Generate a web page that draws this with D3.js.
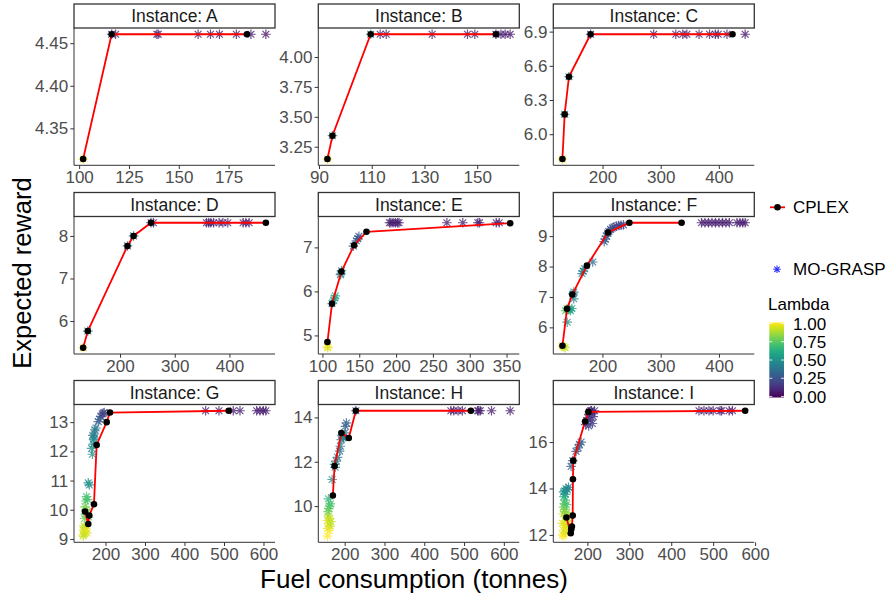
<!DOCTYPE html>
<html><head><meta charset="utf-8">
<script src="https://cdn.jsdelivr.net/npm/d3@7"></script>
<style>body{margin:0;background:#fff} svg{display:block} text{font-family:"Liberation Sans",Arial,Helvetica,sans-serif}</style>
</head><body><svg id="chart" width="894" height="594"></svg>
<script>
// ---------------- DATA ----------------
const instances = ["A","B","C","D","E","F","G","H","I"];

// CPLEX solutions [fuel, reward]
const A_cplex = [[102,4.314],[116.3,4.4605],[184.2,4.4605]];
const B_cplex = [[93.2,3.147],[95.1,3.342],[109.6,4.19],[157.1,4.19]];
const C_cplex = [[131,5.782],[134.8,6.174],[142.2,6.504],[179.4,6.877],[423.5,6.877]];
const D_cplex = [[132.5,5.372],[141,5.765],[213.6,7.765],[224.7,8.0],[256.6,8.31],[466.6,8.31]];
const E_cplex = [[106.8,4.85],[113,5.72],[125.8,6.45],[143,7.05],[159.8,7.355],[354.9,7.55]];
const F_cplex = [[131.4,5.394],[139.3,6.61],[148.3,7.08],[173.4,8.03],[209.7,9.12],[246.3,9.44],[335.9,9.44]];
const G_cplex = [[148.1,9.94],[156.5,9.51],[159,9.8],[170.9,10.19],[177.7,12.22],[203,13.0],[211.4,13.33],[511.9,13.39]];
const H_cplex = [[170.2,10.48],[174.5,11.81],[191.6,13.3],[210.2,13.07],[228,14.3],[517.1,14.3]];
const I_cplex = [[150,12.75],[160.3,12.07],[161.5,12.24],[163,12.36],[165,12.83],[165.5,14.4],[166.4,15.2],[194.5,16.89],[202.4,17.3],[576.3,17.35]];

// MO-GRASP solutions [fuel, reward, lambda]
const A_grasp = [[102,4.314,1.0],[116.3,4.4605,0.1],[118.3,4.4605,0.08],[139,4.4605,0.08],[139.7,4.4605,0.1],[159.7,4.4605,0.08],[165.9,4.4605,0.08],[170.4,4.4605,0.05],[178.9,4.4605,0.08],[186.2,4.4605,0.08],[193.7,4.4605,0.05]];
const B_grasp = [[93.2,3.147,1.0],[95.1,3.342,0.5],[109.6,4.19,0.45],[113.2,4.19,0.1],[115.5,4.19,0.1],[132.9,4.19,0.08],[146.3,4.19,0.08],[149.1,4.19,0.08],[157.1,4.19,0.05],[159.0,4.19,0.08],[160.6,4.19,0.08],[162.5,4.19,0.05]];
const C_grasp = [[131,5.782,1.0],[134.8,6.174,0.6],[142.2,6.504,0.42],[179.4,6.877,0.12],[288,6.877,0.08],[326,6.877,0.08],[338,6.877,0.08],[345,6.877,0.08],[366,6.877,0.08],[384,6.877,0.08],[394,6.877,0.08],[399,6.877,0.08],[414,6.877,0.08],[445.3,6.877,0.05]];
const D_grasp = [[132.5,5.372,1.0],[141,5.765,0.38],[213.6,7.765,0.3],[224.7,8.0,0.3],[256.6,8.31,0.12],[261,8.31,0.1],[358,8.31,0.08],[362,8.31,0.08],[366,8.31,0.08],[371,8.31,0.08],[381,8.31,0.08],[388,8.31,0.08],[397,8.31,0.08],[425,8.31,0.08],[430,8.31,0.08],[436,8.31,0.08]];
const E_grasp = [[106.8,4.74,1.0],[107.5,4.72,0.95],[115.5,5.8,0.55],[116.5,5.85,0.55],[117.5,5.9,0.6],[113,5.72,0.5],[124.5,6.38,0.4],[125,6.4,0.45],[126,6.47,0.45],[142,7.03,0.3],[146,7.15,0.3],[148,7.2,0.3],[149.5,7.25,0.25],
  [191,7.56,0.08],[193,7.56,0.08],[196,7.56,0.08],[199,7.56,0.08],[202,7.56,0.08],[204,7.56,0.08],[269,7.56,0.08],[290.6,7.56,0.08],[311,7.56,0.08],[313.3,7.56,0.08],[336,7.56,0.08],[340,7.56,0.08]];
const F_grasp = [[131.4,5.39,1.0],[134,5.36,0.95],[136,5.33,0.9],[139.5,6.17,0.5],[137,6.55,0.75],[139,6.62,0.8],[141,6.58,0.7],[143,6.6,0.65],[145,6.55,0.6],[147.5,6.62,0.55],[150.8,6.94,0.45],[149.5,7.1,0.5],[151,7.16,0.4],[164.9,7.77,0.45],[167,7.85,0.4],[169.5,7.93,0.45],[183.4,8.15,0.35],
  [203,8.82,0.3],[205,8.9,0.3],[207,9.0,0.3],[209,9.1,0.3],[211,9.15,0.25],[214,9.22,0.25],[217,9.27,0.25],[220,9.3,0.2],[224,9.33,0.2],[228,9.35,0.2],[232,9.36,0.2],[236,9.37,0.2],
  [370,9.44,0.08],[376,9.44,0.08],[382,9.44,0.08],[388,9.44,0.08],[394,9.44,0.08],[400,9.44,0.08],[406,9.44,0.08],[412,9.44,0.08],[418,9.44,0.08],[431,9.44,0.08],[436,9.44,0.08],[441,9.44,0.08],[445,9.44,0.08]];
const G_grasp = [[143.5,9.15,1.0],[145,9.3,0.95],[147,9.4,0.95],[149,9.25,0.9],[151,9.35,1.0],[146,9.45,0.9],[153,9.2,0.95],[144,9.1,0.9],
  [147,9.7,0.8],[149,9.85,0.75],[151,10.0,0.8],[148,10.1,0.8],[150,10.3,0.75],[152,10.45,0.7],[155,10.35,0.7],[154,9.95,0.8],[157,9.75,0.75],
  [156.5,10.92,0.5],[159,10.85,0.5],[165,12.1,0.5],[167,11.9,0.5],[169,12.25,0.45],[170,12.4,0.45],[171,12.45,0.5],[168,12.55,0.45],[173,12.74,0.4],[176,12.8,0.4],[172,12.6,0.4],
  [181.8,13.02,0.3],[185,13.1,0.3],[188,13.2,0.25],[192,13.28,0.2],[194.4,13.31,0.2],[197,13.33,0.2],
  [453.6,13.39,0.08],[487.3,13.39,0.08],[523.5,13.39,0.08],[540.5,13.39,0.08],[582.8,13.39,0.08],[591,13.39,0.08],[599.5,13.39,0.08],[606,13.39,0.08]];
const H_grasp = [[156.6,8.65,1.0],[158,9.0,0.95],[160,9.2,1.0],[157,9.35,0.95],[162,9.45,0.95],[159,9.55,0.9],[163,9.1,0.9],[161,8.9,1.0],[165,9.3,0.9],
  [158,9.75,0.8],[160,9.9,0.75],[162,10.0,0.75],[164,10.1,0.7],[159.1,10.33,0.65],
  [168.4,11.2,0.5],[174.5,11.88,0.5],[176,11.75,0.45],[178.8,12.03,0.45],[182,12.2,0.4],[187.2,12.48,0.4],[189,12.7,0.4],[191.6,13.0,0.45],[195.7,13.07,0.4],[193,13.2,0.4],[197,13.1,0.45],[200,13.3,0.35],[204.3,13.75,0.3],[202,13.6,0.3],[228,14.3,0.25],
  [466.8,14.3,0.08],[474.2,14.3,0.08],[485,14.3,0.08],[495.7,14.3,0.08],[534,14.3,0.08],[537,14.3,0.08],[540.8,14.3,0.08],[569,14.3,0.08],[615.9,14.3,0.08]];
const I_grasp = [[141,12.0,1.0],[143,12.2,0.95],[145,12.4,1.0],[147,12.6,0.95],[149,12.8,0.9],[142,12.9,0.9],[146,13.0,0.85],[150,12.3,0.95],[152,12.5,0.9],[144,11.95,1.0],[148,12.1,0.95],[153,12.7,0.9],[151,12.95,0.85],[140.5,12.5,0.95],
  [143,13.2,0.8],[145,13.35,0.75],[147,13.5,0.7],[144,13.65,0.65],[148,13.75,0.6],[146,13.1,0.8],[150,13.3,0.7],
  [146,13.9,0.55],[149,14.0,0.5],[152,13.95,0.45],[155,14.05,0.45],[143,13.85,0.5],
  [161.2,14.95,0.3],[165,15.2,0.3],[173,15.6,0.3],[178,15.75,0.3],[181,15.9,0.3],[185,16.0,0.3],
  [196,16.75,0.15],[199,16.9,0.15],[201,17.05,0.15],[203,17.2,0.15],[205,17.3,0.1],[208,17.35,0.1],[211,17.25,0.15],[214,17.1,0.15],[207,16.95,0.15],[210,17.35,0.1],[217,17.35,0.1],[212,16.8,0.2],[203,16.7,0.2],
  [466.2,17.35,0.08],[478,17.35,0.08],[490,17.35,0.08],[500,17.35,0.08],[516.4,17.35,0.08],[520,17.35,0.08],[538,17.35,0.08],[546,17.35,0.08]];

// Tick labels
const A_xticks = [100,125,150,175], A_yticks = [4.35,4.40,4.45];
const B_xticks = [90,110,130,150],  B_yticks = [3.25,3.50,3.75,4.00];
const C_xticks = [200,300,400],     C_yticks = [6.0,6.3,6.6,6.9];
const D_xticks = [200,300,400],     D_yticks = [6,7,8];
const E_xticks = [100,150,200,250,300,350], E_yticks = [5,6,7];
const F_xticks = [200,300,400],     F_yticks = [6,7,8,9];
const G_xticks = [200,300,400,500,600], G_yticks = [9,10,11,12,13];
const H_xticks = [200,300,400,500,600], H_yticks = [10,12,14];
const I_xticks = [200,300,400,500,600], I_yticks = [12,14,16];
const yFormat = {A:".2f",B:".2f",C:".1f",D:"d",E:"d",F:"d",G:"d",H:"d",I:"d"};
const lambdaTicks = [0,0.25,0.5,0.75,1.0];

// table built from the arrays above
const table = {
  A:{c:A_cplex,g:A_grasp,xt:A_xticks,yt:A_yticks}, B:{c:B_cplex,g:B_grasp,xt:B_xticks,yt:B_yticks},
  C:{c:C_cplex,g:C_grasp,xt:C_xticks,yt:C_yticks}, D:{c:D_cplex,g:D_grasp,xt:D_xticks,yt:D_yticks},
  E:{c:E_cplex,g:E_grasp,xt:E_xticks,yt:E_yticks}, F:{c:F_cplex,g:F_grasp,xt:F_xticks,yt:F_yticks},
  G:{c:G_cplex,g:G_grasp,xt:G_xticks,yt:G_yticks}, H:{c:H_cplex,g:H_grasp,xt:H_xticks,yt:H_yticks},
  I:{c:I_cplex,g:I_grasp,xt:I_xticks,yt:I_yticks}
};

// ---------------- LAYOUT ----------------
const svg = d3.select("#chart");
const colLeft = [74, 318.3, 553.3], panelW = 201;
const stripTop = [4, 192.5, 380.5], stripH = 24;
const panelBottom = [165.3, 354, 542.3];
const tickCol = "#4d4d4d", axisCol = "#333333";
const starR = 4.8;

function starPath(r){
  const d = r*0.7071;
  return `M${-r},0L${r},0M0,${-r}L0,${r}M${-d},${-d}L${d},${d}M${-d},${d}L${d},${-d}`;
}
function expand(ext){ const r = ext[1]-ext[0]; return [ext[0]-0.05*r, ext[1]+0.05*r]; }

instances.forEach((id,i)=>{
  const col = i%3, row = Math.floor(i/3);
  const d = table[id];
  const L = colLeft[col], R = L+panelW;
  const T = stripTop[row]+stripH, B = panelBottom[row];
  const allX = d.c.map(p=>p[0]).concat(d.g.map(p=>p[0]));
  const allY = d.c.map(p=>p[1]).concat(d.g.map(p=>p[1]));
  const x = d3.scaleLinear().domain(expand(d3.extent(allX))).range([L,R]);
  const y = d3.scaleLinear().domain(expand(d3.extent(allY))).range([B,T]);

  const g = svg.append("g");
  // strip
  g.append("rect").attr("x",L).attr("y",stripTop[row]).attr("width",panelW).attr("height",stripH)
    .attr("fill","#fff").attr("stroke","#333").attr("stroke-width",1.3);
  g.append("text").attr("x",(L+R)/2).attr("y",stripTop[row]+stripH/2).attr("dy","0.36em")
    .attr("text-anchor","middle").attr("font-size",17.5).attr("fill","#1a1a1a").text("Instance: "+id);

  // axes
  const xa = g.append("g").attr("transform",`translate(0,${B})`)
    .call(d3.axisBottom(x).tickValues(d.xt).tickSize(3.7).tickPadding(2.3).tickFormat(d3.format("d")));
  const ya = g.append("g").attr("transform",`translate(${L},0)`)
    .call(d3.axisLeft(y).tickValues(d.yt).tickSize(3.7).tickPadding(2.2).tickFormat(d3.format(yFormat[id])));
  [xa,ya].forEach(a=>{
    a.select(".domain").attr("stroke",axisCol).attr("stroke-width",1);
    a.selectAll(".tick line").attr("stroke",axisCol).attr("stroke-width",1);
    a.selectAll(".tick text").attr("fill",tickCol).attr("font-size",17).attr("font-family",'"Liberation Sans",Arial,sans-serif');
  });
  xa.select(".domain").attr("d",`M${L},0H${R}`);
  ya.select(".domain").attr("d",`M0,${T}V${B}`);

  // MO-GRASP stars
  g.append("g").selectAll("path").data(d.g).join("path")
    .attr("transform",p=>`translate(${x(p[0])},${y(p[1])})`)
    .attr("d",starPath(starR)).attr("fill","none")
    .attr("stroke",p=>d3.interpolateViridis(p[2])).attr("stroke-opacity",0.78).attr("stroke-width",1.2);

  // CPLEX line
  const sorted = d.c.slice().sort((a,b)=>a[0]-b[0]);
  g.append("path").datum(sorted)
    .attr("d",d3.line().x(p=>x(p[0])).y(p=>y(p[1])))
    .attr("fill","none").attr("stroke","#ff0000").attr("stroke-width",1.8);
  // CPLEX points
  g.append("g").selectAll("circle").data(d.c).join("circle")
    .attr("cx",p=>x(p[0])).attr("cy",p=>y(p[1])).attr("r",3.3).attr("fill","#000");
});

// axis titles
svg.append("text").attr("x",414).attr("y",588).attr("text-anchor","middle")
  .attr("font-size",26).attr("fill","#000").text("Fuel consumption (tonnes)");
svg.append("text").attr("transform","translate(31,273) rotate(-90)").attr("text-anchor","middle")
  .attr("font-size",25.5).attr("fill","#000").text("Expected reward");

// legend: CPLEX
const lg = svg.append("g");
lg.append("line").attr("x1",770).attr("x2",785).attr("y1",207.3).attr("y2",207.3).attr("stroke","#ff0000").attr("stroke-width",1.8);
lg.append("circle").attr("cx",777.5).attr("cy",207.3).attr("r",3.3).attr("fill","#000");
lg.append("text").attr("x",793).attr("y",207.3).attr("dy","0.36em").attr("font-size",17).attr("fill","#000").text("CPLEX");
lg.append("path").attr("transform","translate(777,269.3)").attr("d",starPath(3.8)).attr("fill","none").attr("stroke","#3333ff").attr("stroke-width",1.1);
lg.append("text").attr("x",793).attr("y",269.3).attr("dy","0.36em").attr("font-size",17).attr("fill","#000").text("MO-GRASP");

// colourbar
lg.append("text").attr("x",768).attr("y",304).attr("dy","0.36em").attr("font-size",17).attr("fill","#000").text("Lambda");
const defs = svg.append("defs");
const grad = defs.append("linearGradient").attr("id","vir").attr("x1",0).attr("x2",0).attr("y1",1).attr("y2",0);
d3.range(0,1.0001,0.05).forEach(t=>grad.append("stop").attr("offset",t).attr("stop-color",d3.interpolateViridis(t)));
const cb = d3.scaleLinear().domain([0,1]).range([396.5,323.5]);
lg.append("rect").attr("x",769.3).attr("y",cb(1)-1).attr("width",14.7).attr("height",cb(0)-cb(1)+2).attr("fill","url(#vir)");
lambdaTicks.forEach(t=>{
  lg.append("line").attr("x1",769.3).attr("x2",772.3).attr("y1",cb(t)).attr("y2",cb(t)).attr("stroke","#fff").attr("stroke-width",0.8);
  lg.append("line").attr("x1",781).attr("x2",784).attr("y1",cb(t)).attr("y2",cb(t)).attr("stroke","#fff").attr("stroke-width",0.8);
  lg.append("text").attr("x",793).attr("y",cb(t)).attr("dy","0.36em").attr("font-size",17).attr("fill","#000").text(d3.format(".2f")(t));
});
</script></body></html>
